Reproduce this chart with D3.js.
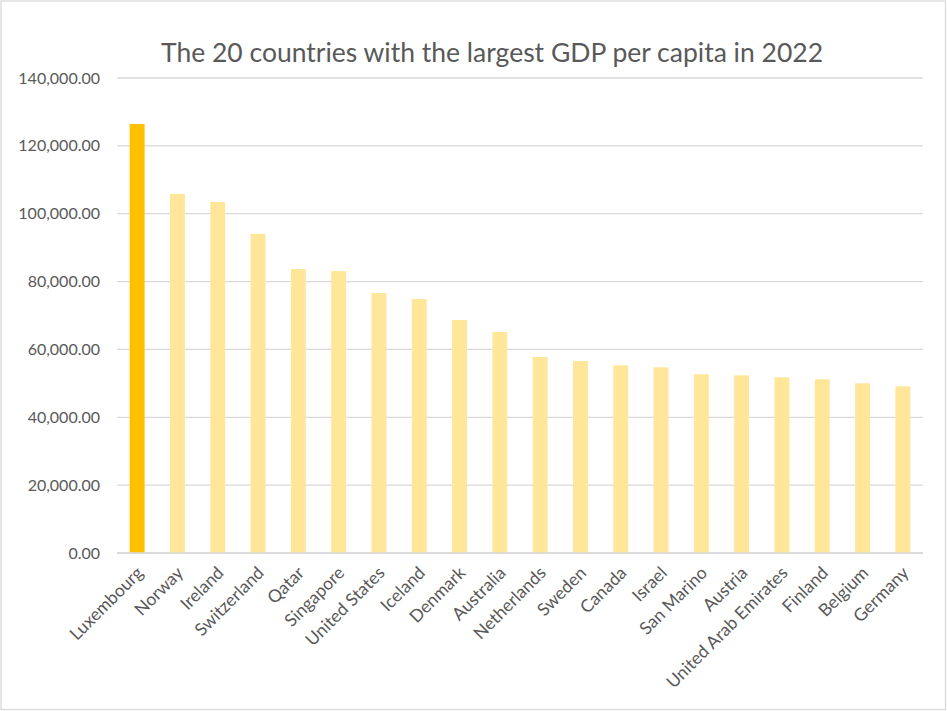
<!DOCTYPE html>
<html>
<head>
<meta charset="utf-8">
<script src="https://cdn.jsdelivr.net/npm/d3@7"></script>
<style>
  html, body { margin: 0; padding: 0; background: #fff; }
  svg { display: block; }
  text { font-family: Lato, "Open Sans", sans-serif; fill: #595959; }
</style>
</head>
<body>
<svg id="chart" width="947" height="711"></svg>
<script>
const title = "The 20 countries with the largest GDP per capita in 2022";
const countries = ["Luxembourg","Norway","Ireland","Switzerland","Qatar","Singapore","United States","Iceland","Denmark","Australia","Netherlands","Sweden","Canada","Israel","San Marino","Austria","United Arab Emirates","Finland","Belgium","Germany"];
const gdpPerCapita = [126430,105810,103450,94020,83700,83100,76630,74860,68670,65140,57770,56590,55320,54730,52670,52380,51790,51200,50020,49130];
const yTicks = [0,20000,40000,60000,80000,100000,120000,140000];

const W = 947, H = 711;
const m = {left: 117, right: 24, top: 78, bottom: 158};
const svg = d3.select("#chart");

// outer border
svg.append("rect").attr("x", 1).attr("y", 1).attr("width", W - 2.5).attr("height", H - 2.5)
  .attr("fill", "#fff").attr("stroke", "#d9d9d9").attr("stroke-width", 1.3);

const x = d3.scaleBand().domain(countries).range([m.left, W - m.right]).paddingInner(0.63).paddingOuter(0.315);
const y = d3.scaleLinear().domain([0, 140000]).range([H - m.bottom, m.top]);

// gridlines
svg.append("g").selectAll("line").data(yTicks).join("line")
  .attr("x1", m.left).attr("x2", W - m.right)
  .attr("y1", d => y(d)).attr("y2", d => y(d))
  .attr("stroke", "#d9d9d9").attr("stroke-width", 1.3);

// y axis labels
const fmt = d3.format(",.2f");
const yAxis = d3.axisLeft(y).tickValues(yTicks).tickFormat(fmt).tickSize(0).tickPadding(17);
const ga = svg.append("g").attr("transform", `translate(${m.left},0)`).call(yAxis);
ga.select(".domain").remove();
ga.selectAll("text").style("font-family", "Lato, sans-serif").style("font-size", "16px").attr("fill", "#595959");

// bars
svg.append("g").selectAll("rect").data(countries).join("rect")
  .attr("x", d => x(d)).attr("width", x.bandwidth())
  .attr("y", (d, i) => y(gdpPerCapita[i]))
  .attr("height", (d, i) => y(0) - y(gdpPerCapita[i]))
  .attr("fill", (d, i) => i === 0 ? "#ffc000" : "#ffe699");

// baseline
svg.append("line").attr("x1", m.left).attr("x2", W - m.right)
  .attr("y1", y(0)).attr("y2", y(0)).attr("stroke", "#d9d9d9").attr("stroke-width", 1.3);

// x labels
const xAxis = d3.axisBottom(x).tickSize(0).tickPadding(0);
const gx = svg.append("g").attr("transform", `translate(0,${y(0)})`).call(xAxis);
gx.select(".domain").remove();
gx.selectAll("text")
  .attr("text-anchor", "end")
  .attr("dy", "0")
  .attr("y", 0)
  .attr("transform", "translate(7,21) rotate(-45)")
  .style("font-family", "Lato, sans-serif").style("font-size", "17.5px").attr("fill", "#595959");

// title
svg.append("text").attr("x", 492).attr("y", 62).attr("text-anchor", "middle")
  .style("font-size", "26.5px").attr("fill", "#595959").text(title);
</script>
</body>
</html>
